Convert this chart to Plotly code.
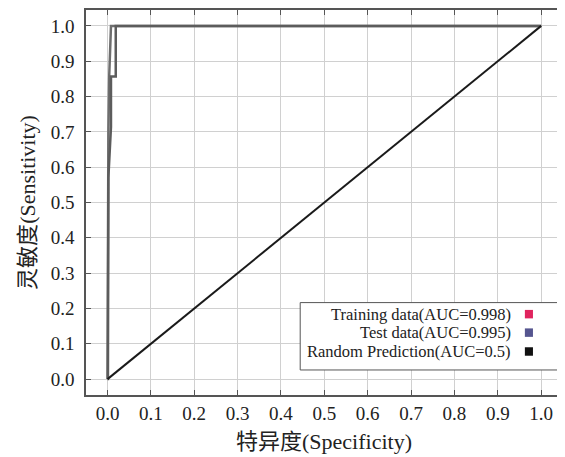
import plotly.graph_objects as go

# ROC data
train_fpr = [0.0, 0.001, 0.002, 0.004, 0.006, 0.008, 1.0]
train_tpr = [0.0, 0.50, 0.70, 0.86, 0.95, 1.0, 1.0]
test_fpr = [0.0, 0.001, 0.002, 0.008, 0.008, 0.019, 0.019, 1.0]
test_tpr = [0.0, 0.0, 0.571, 0.714, 0.857, 0.857, 1.0, 1.0]
rand_fpr = [0.0, 1.0]
rand_tpr = [0.0, 1.0]

legend_labels = ["Training data(AUC=0.998)", "Test data(AUC=0.995)", "Random Prediction(AUC=0.5)"]
legend_colors = ["#e0245e", "#55558f", "#111111"]

tick_vals = [round(i * 0.1, 1) for i in range(11)]
tick_text = [f"{v:.1f}" for v in tick_vals]

FONT = "Liberation Serif, Noto Sans CJK SC, serif"

fig = go.Figure()
fig.add_trace(go.Scatter(x=train_fpr, y=train_tpr, mode="lines",
                         line=dict(color="#6e6e6e", width=2.5), showlegend=False))
fig.add_trace(go.Scatter(x=test_fpr, y=test_tpr, mode="lines",
                         line=dict(color="#5c5c5c", width=2.5), showlegend=False))
fig.add_trace(go.Scatter(x=rand_fpr, y=rand_tpr, mode="lines",
                         line=dict(color="#1a1a1a", width=2), showlegend=False))

axis_common = dict(
    tickvals=tick_vals, ticktext=tick_text,
    showgrid=True, gridcolor="#d0d0d0", gridwidth=1,
    ticks="inside", ticklen=5, tickcolor="#555", tickwidth=1,
    mirror="ticks", showline=True, linecolor="#555", linewidth=1.5,
    zeroline=False, automargin=False,
    tickfont=dict(family=FONT, size=19, color="#222"),
)

# page body has an 8px default margin, so the figure is sized/offset to compensate
fig.update_layout(
    width=557, height=449,
    margin=dict(l=78, r=3, t=2, b=62),
    paper_bgcolor="white", plot_bgcolor="white",
    xaxis=dict(range=[-0.0496, 1.048],
               title=dict(text="特异度(Specificity)", font=dict(family=FONT, size=22, color="#222"), standoff=11),
               **axis_common),
    yaxis=dict(range=[-0.045, 1.045], ticklabelstandoff=6,
               title=dict(text="灵敏度(Sensitivity)", font=dict(family=FONT, size=22, color="#222"), standoff=9),
               **axis_common),
)

# custom legend (text right, colored square at right)
x0, x1 = 0.45, 0.994
ytop, ybot = 0.240, 0.065
fig.add_shape(type="rect", xref="paper", yref="paper", x0=x0, x1=x1, y0=ybot, y1=ytop,
              line=dict(color="#555", width=1), fillcolor="white", layer="above")
row_y = [0.210, 0.162, 0.113]
for lab, col, yc in zip(legend_labels, legend_colors, row_y):
    fig.add_annotation(xref="paper", yref="paper", x=0.897, y=yc, text=lab,
                       showarrow=False, xanchor="right", yanchor="middle",
                       font=dict(family=FONT, size=16.5, color="#222"))
    fig.add_shape(type="rect", xref="paper", yref="paper",
                  x0=0.922, x1=0.939, y0=yc - 0.011, y1=yc + 0.011,
                  fillcolor=col, line=dict(width=0), layer="above")

fig.write_html("out.html")
